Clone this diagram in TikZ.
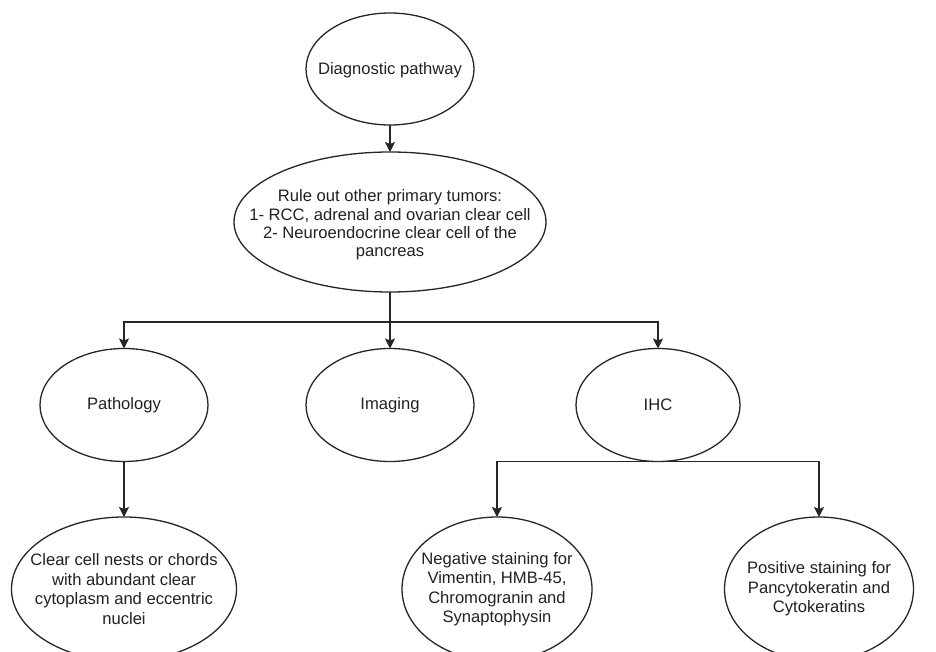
\documentclass[tikz,border=0pt]{standalone}
\usepackage{fontspec}
\setmainfont{Liberation Sans}
\usetikzlibrary{shapes.geometric,arrows.meta}
\definecolor{ink}{HTML}{262626}
\definecolor{txt}{HTML}{222222}
\begin{document}
\begin{tikzpicture}[x=1pt,y=-1pt,
  ell/.style={draw=ink, line width=1.3pt, ellipse, inner sep=0pt, outer sep=0pt},
  lbl/.style={align=center, text=txt, inner sep=0pt, font=\fontsize{16.6}{19.5}\selectfont},
  arr/.style={draw=ink, line width=1.3pt, -{Stealth[length=10pt,width=10pt,inset=2pt]}},
  con/.style={draw=ink, line width=1.3pt}]
\useasboundingbox (0,0) rectangle (936,652);
\clip (0,0) rectangle (936,652);
\fill[white] (0,0) rectangle (936,652);
% ellipses
\node[ell, minimum width=168pt, minimum height=112pt] (n1) at (390,69) {};
\node[ell, minimum width=312pt, minimum height=140pt] (n2) at (390,222) {};
\node[ell, minimum width=168pt, minimum height=113pt] (pat) at (124,405) {};
\node[ell, minimum width=168pt, minimum height=113pt] (img) at (390,405) {};
\node[ell, minimum width=164pt, minimum height=113pt] (ihc) at (658,405) {};
\node[ell, minimum width=225pt, minimum height=144pt] (clr) at (124,589) {};
\node[ell, minimum width=190pt, minimum height=144pt] (neg) at (497,589) {};
\node[ell, minimum width=189pt, minimum height=144pt] (pos) at (819,589) {};
% texts
\node[lbl] (t1) at (390,70) {Diagnostic pathway};
\node[lbl, font=\fontsize{16.6}{18.3}\selectfont] (t2) at (390,225) {Rule out other primary tumors:\\1- RCC, adrenal and ovarian clear cell\\2- Neuroendocrine clear cell of the\\pancreas};
\node[lbl] (t3) at (pat) {Pathology};
\node[lbl] (t4) at (img) {Imaging};
\node[lbl] (t5) at (ihc) {IHC};
\node[lbl] (t6) at (clr) {Clear cell nests or chords\\with abundant clear\\cytoplasm and eccentric\\nuclei};
\node[lbl] (t7) at (neg) {Negative staining for\\Vimentin, HMB-45,\\Chromogranin and\\Synaptophysin};
\node[lbl] (t8) at (pos) {Positive staining for\\Pancytokeratin and\\Cytokeratins};
% connectors
\coordinate (j1) at (390,322);
\draw[arr] (n1) -- (n2);
\draw[con] (n2.south) -- (j1);
\draw[arr] (j1) -| (pat.north);
\draw[arr] (j1) -- (img.north);
\draw[arr] (j1) -| (ihc.north);
\draw[arr] (pat) -- (clr);
\draw[arr] (ihc.south) -| (neg.north);
\draw[arr] (ihc.south) -| (pos.north);
\end{tikzpicture}
\end{document}
